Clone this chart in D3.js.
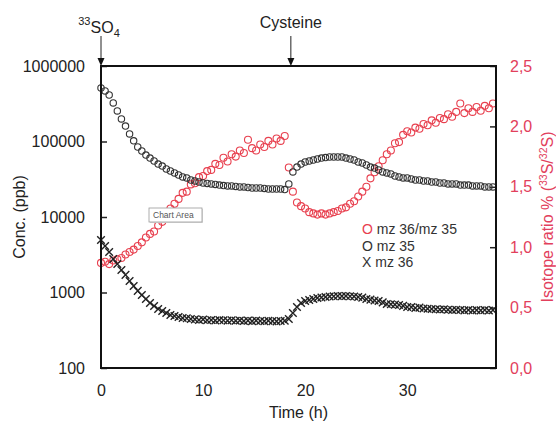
<!DOCTYPE html>
<html>
<head>
<meta charset="utf-8">
<script src="https://cdn.jsdelivr.net/npm/d3@7/dist/d3.min.js"></script>
<style>
  html, body { margin: 0; padding: 0; background: #fff; }
  svg { display: block; font-family: "Liberation Sans", Arial, Helvetica, sans-serif; }
</style>
</head>
<body>
<svg id="chart" width="556" height="423"></svg>
<script>
// Sampling times (h)
const timeH = [
  0.0, 0.4, 0.8, 1.2, 1.6, 2.0, 2.4, 2.8, 3.2, 3.6,
  4.0, 4.4, 4.8, 5.2, 5.6, 6.0, 6.4, 6.8, 7.2, 7.6,
  8.0, 8.4, 8.8, 9.2, 9.6, 10.0, 10.4, 10.8, 11.2, 11.6,
  12.0, 12.4, 12.8, 13.2, 13.6, 14.0, 14.4, 14.8, 15.2, 15.6,
  16.0, 16.4, 16.8, 17.2, 17.6, 18.0, 18.4, 18.8, 19.2, 19.6,
  20.0, 20.4, 20.8, 21.2, 21.6, 22.0, 22.4, 22.8, 23.2, 23.6,
  24.0, 24.4, 24.8, 25.2, 25.6, 26.0, 26.4, 26.8, 27.2, 27.6,
  28.0, 28.4, 28.8, 29.2, 29.6, 30.0, 30.4, 30.8, 31.2, 31.6,
  32.0, 32.4, 32.8, 33.2, 33.6, 34.0, 34.4, 34.8, 35.2, 35.6,
  36.0, 36.4, 36.8, 37.2, 37.6, 38.0, 38.4
];

// m/z 35 concentration (ppb)
const mz35 = [
  512000, 467000, 413000, 324000, 254000, 199000, 160000, 126000, 102000, 84500,
  74800, 66200, 60400, 55200, 50300, 47300, 43200, 40700, 38300, 36000,
  33900, 32900, 30900, 30000, 29100, 28200, 27800, 27400, 27000, 26500,
  26100, 25800, 25800, 25400, 25000, 25000, 24600, 24200, 24200, 24200,
  23900, 23500, 23500, 23500, 23500, 23100, 27400, 39500, 45900, 50300,
  53500, 55200, 56900, 58600, 60400, 61300, 62300, 62300, 62300, 62300,
  60400, 58600, 56900, 53500, 51900, 48800, 45900, 44500, 42000, 39500,
  38300, 37200, 34900, 33900, 32900, 32900, 31900, 30900, 30900, 30000,
  30000, 29100, 29100, 28200, 28200, 27400, 27400, 27400, 26500, 26500,
  26500, 25800, 25800, 25800, 25000, 25000, 25000
];

// m/z 36 concentration (ppb)
const mz36 = [
  4960, 4130, 3440, 2780, 2390, 1990, 1710, 1420, 1220, 1050,
  927, 820, 726, 663, 605, 569, 535, 504, 489, 474,
  460, 455, 446, 440, 432, 438, 430, 432, 426, 432,
  428, 424, 430, 422, 426, 420, 424, 418, 424, 420,
  416, 422, 418, 414, 420, 422, 446, 535, 643, 726,
  771, 796, 820, 845, 860, 871, 885, 890, 899, 895,
  899, 890, 885, 871, 855, 820, 805, 785, 771, 740,
  705, 700, 690, 683, 665, 643, 640, 624, 630, 615,
  610, 605, 600, 595, 600, 590, 586, 592, 586, 580,
  586, 578, 584, 580, 586, 578, 584
];

// Isotope ratio m/z 36 / m/z 35 (%)
const ratio = [
  0.87, 0.88, 0.86, 0.89, 0.90, 0.91, 0.94, 0.96, 0.98, 1.01,
  1.04, 1.08, 1.11, 1.13, 1.18, 1.21, 1.26, 1.32, 1.36, 1.40,
  1.45, 1.46, 1.52, 1.53, 1.58, 1.59, 1.63, 1.64, 1.69, 1.68,
  1.74, 1.71, 1.77, 1.75, 1.80, 1.78, 1.89, 1.82, 1.80, 1.85,
  1.83, 1.88, 1.85, 1.90, 1.88, 1.92, 1.66, 1.46, 1.37, 1.34,
  1.32, 1.29, 1.28, 1.27, 1.28, 1.27, 1.28, 1.29, 1.30, 1.32,
  1.33, 1.36, 1.38, 1.42, 1.46, 1.50, 1.57, 1.62, 1.67, 1.72,
  1.77, 1.80, 1.86, 1.87, 1.93, 1.96, 1.95, 1.99, 1.98, 2.02,
  2.01, 2.05, 2.03, 2.07, 2.06, 2.10, 2.08, 2.12, 2.19, 2.11,
  2.15, 2.12, 2.16, 2.13, 2.17, 2.15, 2.19
];

// Axis ticks
const concTicks = [100, 1000, 10000, 100000, 1000000];
const ratioTicks = [0, 0.5, 1.0, 1.5, 2.0, 2.5];
const timeTicks = [0, 10, 20, 30];

// Additions
const events = [
  { t: 0, label: "SO", sup: "33", sub: "4" },
  { t: 18.6, label: "Cysteine" }
];

const legendItems = [
  { sym: "O", symColor: "#e8404f", text: "mz 36/mz 35" },
  { sym: "O", symColor: "#333", text: "mz 35" },
  { sym: "X", symColor: "#333", text: "mz 36" }
];

const RED = "#e8404f";
const RED_TEXT = "#e2405c";
const INK = "#222";

const svg = d3.select("#chart");
const m = { left: 101, right: 496, top: 66, bottom: 368 };

const x = d3.scaleLinear().domain([0, 38.7]).range([m.left, m.right]);
const yL = d3.scaleLog().domain([100, 1e6]).range([m.bottom, m.top]);
const yR = d3.scaleLinear().domain([0, 2.5]).range([m.bottom, m.top]);

const rows = timeH.map((t, i) => ({ t, c35: mz35[i], c36: mz36[i], r: ratio[i] }));

// Left axis (log concentration)
const gL = svg.append("g").attr("transform", `translate(${m.left},0)`)
  .call(d3.axisLeft(yL).tickValues(concTicks).tickFormat(d3.format("d"))
    .tickSizeInner(-6).tickSizeOuter(0).tickPadding(16));
gL.select(".domain").remove();
gL.selectAll("line").attr("stroke", INK).attr("stroke-width", 1.5);
gL.selectAll("text").attr("font-size", 16).attr("fill", "#222")
  .attr("font-family", "Liberation Sans, Arial, sans-serif");

// Right axis (isotope ratio)
const gR = svg.append("g").attr("transform", `translate(${m.right},0)`)
  .call(d3.axisRight(yR).tickValues(ratioTicks)
    .tickFormat(d => d.toFixed(1).replace(".", ","))
    .tickSizeInner(-6).tickSizeOuter(0).tickPadding(14));
gR.select(".domain").remove();
gR.selectAll("line").attr("stroke", INK).attr("stroke-width", 1.5);
gR.selectAll("text").attr("font-size", 16).attr("fill", RED_TEXT)
  .attr("font-family", "Liberation Sans, Arial, sans-serif");

// Bottom axis (time)
const gB = svg.append("g").attr("transform", `translate(0,${m.bottom})`)
  .call(d3.axisBottom(x).tickValues(timeTicks).tickFormat(d3.format("d"))
    .tickSize(0).tickPadding(17));
gB.select(".domain").remove();
gB.selectAll("text").attr("font-size", 16).attr("fill", "#222")
  .attr("font-family", "Liberation Sans, Arial, sans-serif");

// Axis titles
svg.append("text")
  .attr("transform", `translate(25,${(m.top + m.bottom) / 2}) rotate(-90)`)
  .attr("text-anchor", "middle").attr("font-size", 16).attr("fill", "#222")
  .text("Conc. (ppb)");

const rt = svg.append("text")
  .attr("transform", `translate(553,${(m.top + m.bottom) / 2}) rotate(-90)`)
  .attr("text-anchor", "middle").attr("font-size", 16).attr("fill", RED_TEXT);
rt.append("tspan").text("Isotope ratio % (");
rt.append("tspan").attr("font-size", 10.5).attr("dy", -6).text("33");
rt.append("tspan").attr("dy", 6).text("S/");
rt.append("tspan").attr("font-size", 10.5).attr("dy", -6).text("32");
rt.append("tspan").attr("dy", 6).text("S)");

svg.append("text")
  .attr("x", (m.left + m.right) / 2).attr("y", 418)
  .attr("text-anchor", "middle").attr("font-size", 16).attr("fill", "#222")
  .text("Time (h)");

// Series: ratio (red circles), m/z 35 (black circles), m/z 36 (crosses)
svg.append("g").selectAll("circle").data(rows).join("circle")
  .attr("cx", d => x(d.t)).attr("cy", d => yR(d.r)).attr("r", 3.5)
  .attr("fill", "none").attr("stroke", RED).attr("stroke-width", 1.1);

svg.append("g").selectAll("circle").data(rows).join("circle")
  .attr("cx", d => x(d.t)).attr("cy", d => yL(d.c35)).attr("r", 3.2)
  .attr("fill", "none").attr("stroke", "#333").attr("stroke-width", 1.1);

const cross = "M-3.8,-3.8L3.8,3.8M3.8,-3.8L-3.8,3.8";
svg.append("g").selectAll("path").data(rows).join("path")
  .attr("transform", d => `translate(${x(d.t)},${yL(d.c36)})`)
  .attr("d", cross).attr("stroke", "#222").attr("stroke-width", 1.4).attr("fill", "none");

// Plot frame
svg.append("rect")
  .attr("x", m.left).attr("y", m.top)
  .attr("width", m.right - m.left).attr("height", m.bottom - m.top)
  .attr("fill", "none").attr("stroke", "#111").attr("stroke-width", 2);

// Addition arrows with labels
events.forEach(ev => {
  const ex = x(ev.t);
  svg.append("line").attr("x1", ex).attr("x2", ex).attr("y1", 36).attr("y2", 60)
    .attr("stroke", "#222").attr("stroke-width", 1);
  svg.append("path")
    .attr("d", `M${ex - 3.5},${m.top - 8}L${ex + 3.5},${m.top - 8}L${ex},${m.top}Z`)
    .attr("fill", "#111");
  const t = svg.append("text").attr("x", ev.t === 0 ? ex - 2 : ex)
    .attr("y", ev.sup ? 33 : 28).attr("text-anchor", "middle")
    .attr("font-size", 16).attr("fill", "#222");
  if (ev.sup) {
    t.append("tspan").attr("font-size", 11).attr("dy", -8).text(ev.sup);
    t.append("tspan").attr("dy", 8).text(ev.label);
    t.append("tspan").attr("font-size", 11).attr("dy", 4).text(ev.sub);
  } else {
    t.text(ev.label);
  }
});

// Legend
const lg = svg.append("g").attr("transform", "translate(362,234)");
legendItems.forEach((it, i) => {
  const t = lg.append("text").attr("y", i * 16.5).attr("font-size", 14).attr("fill", "#333");
  t.append("tspan").attr("fill", it.symColor).text(it.sym);
  t.append("tspan").text(" " + it.text);
});

// Hover label left over the plot area
const tip = svg.append("g").attr("transform", "translate(149,208)");
tip.append("rect").attr("x", 1).attr("y", 1).attr("width", 53).attr("height", 14)
  .attr("fill", "#ddd");
tip.append("rect").attr("width", 53).attr("height", 14)
  .attr("fill", "#fff").attr("stroke", "#999").attr("stroke-width", 0.8);
tip.append("text").attr("x", 4).attr("y", 10).attr("font-size", 8.5)
  .attr("fill", "#555").text("Chart Area");
</script>
</body>
</html>
